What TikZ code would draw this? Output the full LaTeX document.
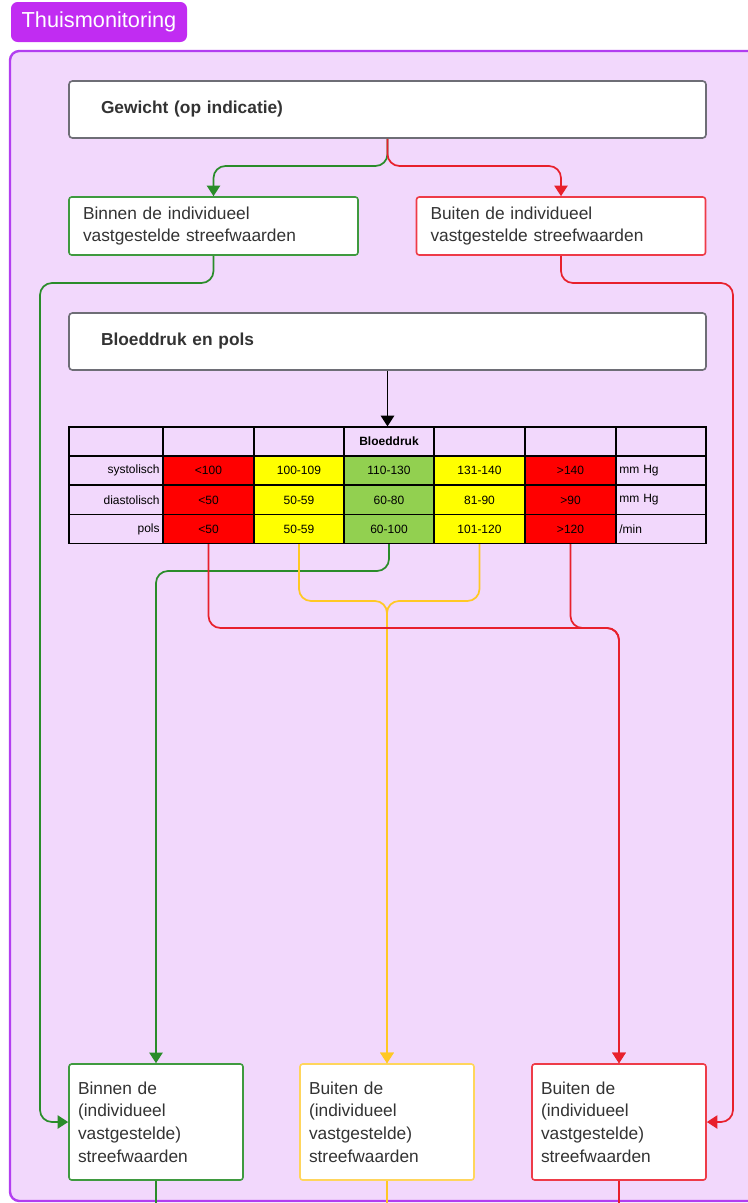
\documentclass[tikz,border=0pt]{standalone}
\usepackage{fontspec}
\setmainfont{Liberation Sans}
\usetikzlibrary{arrows.meta,positioning}

\definecolor{tabpurple}{HTML}{C12CF2}
\definecolor{framepurple}{HTML}{B23EF0}
\definecolor{framefill}{HTML}{F2D8FC}
\definecolor{lgreen}{HTML}{2A8C2A}
\definecolor{bgreen}{HTML}{3F9A3F}
\definecolor{lred}{HTML}{E8202C}
\definecolor{bred}{HTML}{EE3B48}
\definecolor{lyellow}{HTML}{FFC824}
\definecolor{byellow}{HTML}{FFD55C}
\definecolor{cred}{HTML}{FF0000}
\definecolor{cyellow}{HTML}{FFFF00}
\definecolor{cgreen}{HTML}{92D050}
\definecolor{boxgray}{HTML}{6E6E76}
\definecolor{txtgray}{HTML}{333333}

\begin{document}
\begin{tikzpicture}[x=0.75pt, y=-0.75pt,
  tab/.style={fill=tabpurple, rounded corners=5pt, text=white, minimum width=132pt, minimum height=30pt, font=\fontsize{16.3}{19}\selectfont},
  frame/.style={draw=framepurple, line width=1.8pt, fill=framefill, rounded corners=7pt},
  graybox/.style={draw=boxgray, line width=1.2pt, fill=white, rounded corners=2.5pt, align=left, minimum height=42.75pt, inner xsep=24pt, text width=429.75pt, text=txtgray, font=\bfseries\fontsize{13}{16}\selectfont},
  resbox/.style={draw=#1, line width=1.2pt, fill=white, rounded corners=2pt, align=left, minimum height=43.5pt, inner xsep=10.5pt, text width=195.75pt, text=txtgray, font=\fontsize{13}{16.5}\selectfont},
  endbox/.style={draw=#1, line width=1.2pt, fill=white, rounded corners=2pt, align=left, minimum height=87pt, inner xsep=6.75pt, text width=117pt, text=txtgray, font=\fontsize{13}{16.9}\selectfont},
  cel/.style={draw=black, line width=0.9pt, inner xsep=2.5pt, inner ysep=0pt, minimum height=21.75pt, font=\fontsize{9}{10}\selectfont},
  link/.style={line width=1.3pt, rounded corners=9pt, -{Triangle[length=8pt,width=10pt]}},
  wire/.style={line width=1.3pt, rounded corners=9pt}]

\clip (0,0) rectangle (748,1203);

% Header and frame
\node[tab] (title) at (99,22) {Thuismonitoring};
\draw[frame] (10,51) rectangle (770,1201);

% Weight
\node[graybox] (gew) at (387.5,109.5) {Gewicht (op indicatie)};
\node[resbox=bgreen] (binnen) at (213.5,226) {Binnen de individueel\\vastgestelde streefwaarden};
\node[resbox=bred] (buiten) at (561,226) {Buiten de individueel\\vastgestelde streefwaarden};

% Blood pressure
\node[graybox] (bp) at (387.5,341.5) {Bloeddruk en pols};

% Table
\foreach \n/\xa/\xb in {1/69/163,2/163/254,3/254/344,5/434/525,6/525/616,7/616/706}{
  \pgfmathsetmacro\tw{(\xb-\xa)*0.75-5}
  \node[cel, text width=\tw pt] (h\n) at ({(\xa+\xb)/2},441.5) {};
}
\node[cel, text width=62.5pt, align=center, font=\bfseries\fontsize{9}{10}\selectfont] (h4) at (389,441.5) {Bloeddruk};
\foreach \n/\xa/\xb/\clr/\al/\txt in {1/69/163/none/right/systolisch, 2/163/254/cred/center/<100, 3/254/344/cyellow/center/100-109, 4/344/434/cgreen/center/110-130, 5/434/525/cyellow/center/131-140, 6/525/616/cred/center/>140, 7/616/706/none/left/mm Hg}{
  \pgfmathsetmacro\tw{(\xb-\xa)*0.75-5}
  \node[cel, fill=\clr, align=\al, text width=\tw pt] (s\n) at ({(\xa+\xb)/2},470.5) {\txt};
}
\foreach \n/\xa/\xb/\clr/\al/\txt in {1/69/163/none/right/diastolisch, 2/163/254/cred/center/<50, 3/254/344/cyellow/center/50-59, 4/344/434/cgreen/center/60-80, 5/434/525/cyellow/center/81-90, 6/525/616/cred/center/>90, 7/616/706/none/left/mm Hg}{
  \pgfmathsetmacro\tw{(\xb-\xa)*0.75-5}
  \node[cel, fill=\clr, align=\al, text width=\tw pt] (d\n) at ({(\xa+\xb)/2},500) {\txt};
}
\foreach \n/\xa/\xb/\clr/\al/\txt in {1/69/163/none/right/pols, 2/163/254/cred/center/<50, 3/254/344/cyellow/center/50-59, 4/344/434/cgreen/center/60-100, 5/434/525/cyellow/center/101-120, 6/525/616/cred/center/>120, 7/616/706/none/left/{/min}}{
  \pgfmathsetmacro\tw{(\xb-\xa)*0.75-5}
  \node[cel, fill=\clr, align=\al, text width=\tw pt] (p\n) at ({(\xa+\xb)/2},529) {\txt};
}

% Outcome boxes
\node[endbox=bgreen] (bl) at (156,1122) {Binnen de\\(individueel\\vastgestelde)\\streefwaarden};
\node[endbox=byellow] (bm) at (387,1122) {Buiten de\\(individueel\\vastgestelde)\\streefwaarden};
\node[endbox=bred] (br) at (619,1122) {Buiten de\\(individueel\\vastgestelde)\\streefwaarden};

% Bend points
\coordinate (wsplit) at (387.5,166);
\coordinate (gleft) at (40,283);
\coordinate (rright) at (733,283);
\coordinate (ysplit) at (387,601);
\coordinate (gbend) at (389,571);
\coordinate (rbend) at (619,628);
\coordinate (gout) at (156,1203);
\coordinate (yout) at (387,1203);
\coordinate (rout) at (619,1203);

% Weight connectors
\draw[link, lgreen] (gew.south) -- (wsplit) -| (binnen.north);
\draw[link, lred] (gew.south) -- (wsplit) -| (buiten.north);
\draw[link, lgreen] (binnen.south) |- (gleft) |- (bl.west);
\draw[link, lred] (buiten.south) |- (rright) |- (br.east);

% Blood pressure connectors
\draw[line width=1.1pt, -{Triangle[length=8pt,width=10pt]}] (bp.south) -- (bp.south |- h4.north);
\draw[link, lgreen] (p4.south) -- (gbend) -| (bl.north);
\draw[link, lyellow] (p3.south) |- (ysplit) -- (bm.north);
\draw[link, lyellow] (p5.south) |- (ysplit) -- (bm.north);
\draw[link, lred] (p2.south) |- (rbend) -- (br.north);
\draw[link, lred] (p6.south) |- (rbend) -- (br.north);

% Lines leaving the frame
\draw[wire, lgreen] (bl.south) -- (gout);
\draw[wire, lyellow] (bm.south) -- (yout);
\draw[wire, lred] (br.south) -- (rout);
\end{tikzpicture}
\end{document}
